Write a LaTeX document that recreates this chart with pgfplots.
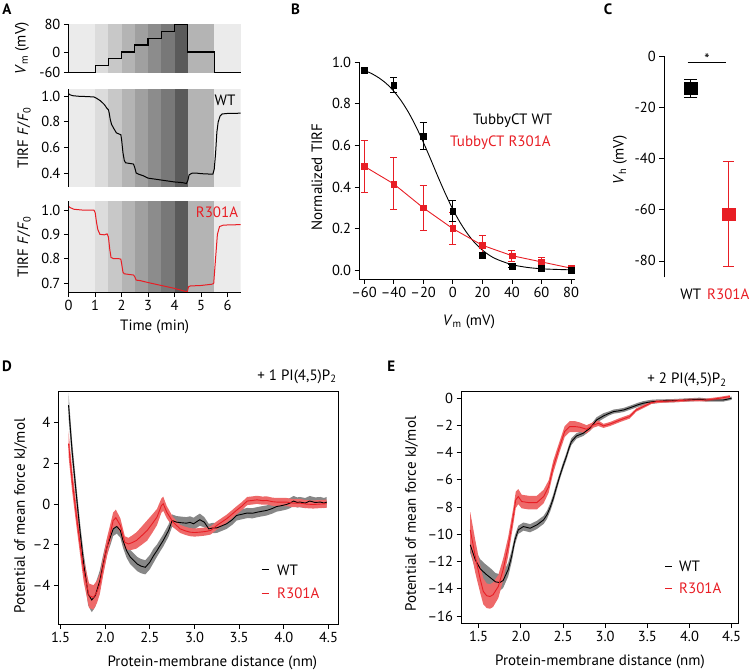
\documentclass[border=0pt]{standalone}
\usepackage{fontspec}
\setmainfont{PT Sans}
\usepackage{pgfplots}
\usepackage{pgfplotstable}
\pgfplotsset{compat=1.18}

\definecolor{tred}{RGB}{232,30,37}
\definecolor{rband}{RGB}{238,105,105}
\definecolor{gband}{RGB}{135,135,135}
\definecolor{b0}{RGB}{235,235,235}
\definecolor{b1}{RGB}{220,220,220}
\definecolor{b2}{RGB}{200,200,200}
\definecolor{b3}{RGB}{180,180,180}
\definecolor{b4}{RGB}{160,160,160}
\definecolor{b5}{RGB}{140,140,140}
\definecolor{b6}{RGB}{120,120,120}
\definecolor{b7}{RGB}{90,90,90}

\pgfplotsset{
  every axis/.append style={
    scale only axis,
    anchor=south west,
    font=\fontsize{14.5}{17}\selectfont,
    /pgf/number format/assume math mode=true,
    axis line style={line width=0.8pt},
    tick style={line width=0.8pt, black},
    tick align=outside,
    major tick length=4.8pt,
  },
  Dax/.style={at={(58.7pt,48pt)}, width=279.6pt, height=232.3pt,
    xmin=1.48, xmax=4.61, ymin=-5.9, ymax=5.53},
  Eax/.style={at={(461.3pt,48.7pt)}, width=277pt, height=232.3pt,
    xmin=1.294, xmax=4.579, ymin=-16.54, ymax=0.51},
}

% background bands of the voltage protocol
\newcommand{\band}[5]{\addplot[draw=none,fill=#1,forget plot] coordinates {(#2,#4) (#3,#4) (#3,#5) (#2,#5)};}
\newcommand{\bandsA}[2]{%
  \band{b0}{0}{1}{#1}{#2}
  \band{b1}{1}{1.5}{#1}{#2}
  \band{b2}{1.5}{2}{#1}{#2}
  \band{b3}{2}{2.5}{#1}{#2}
  \band{b4}{2.5}{3}{#1}{#2}
  \band{b5}{3}{3.5}{#1}{#2}
  \band{b6}{3.5}{4}{#1}{#2}
  \band{b7}{4}{4.5}{#1}{#2}
  \band{b3}{4.5}{5.5}{#1}{#2}
  \band{b0}{5.5}{6.5}{#1}{#2}
}
% shaded band y +- e, drawn as two stacked plots
\newcommand{\errband}[2]{%
  \addplot[draw=none, stack plots=y, forget plot] table[x=x, y expr=\thisrow{y}-\thisrow{e}] {#1};
  \addplot[draw=none, fill=#2, stack plots=y, forget plot] table[x=x, y expr=2*\thisrow{e}] {#1} \closedcycle;
}

\pgfplotstableread{
x y e
1.59 4.87 0.6
1.63 2.6 0.5
1.68 0.35 0.45
1.72 -1.4 0.45
1.76 -2.95 0.5
1.81 -4.43 0.55
1.85 -4.72 0.6
1.89 -4.5 0.55
1.94 -3.77 0.5
1.98 -2.9 0.45
2.02 -2.12 0.4
2.06 -1.6 0.4
2.09 -1.22 0.35
2.13 -1.10 0.35
2.17 -1.30 0.35
2.20 -1.8 0.35
2.24 -2.29 0.35
2.28 -2.6 0.35
2.32 -2.78 0.35
2.36 -2.95 0.35
2.40 -3.05 0.35
2.45 -3.11 0.35
2.50 -2.86 0.35
2.54 -2.55 0.35
2.58 -2.29 0.3
2.62 -2.0 0.3
2.65 -1.79 0.3
2.71 -1.30 0.3
2.75 -0.81 0.3
2.80 -0.89 0.3
2.86 -0.92 0.3
2.91 -0.94 0.3
2.95 -0.90 0.3
2.99 -0.97 0.3
3.03 -0.85 0.3
3.06 -0.77 0.3
3.11 -0.89 0.25
3.16 -1.22 0.25
3.20 -1.18 0.25
3.25 -1.17 0.25
3.30 -1.08 0.25
3.36 -0.97 0.25
3.42 -0.78 0.25
3.47 -0.56 0.25
3.53 -0.50 0.25
3.59 -0.44 0.25
3.65 -0.45 0.25
3.70 -0.40 0.25
3.76 -0.35 0.25
3.81 -0.31 0.25
3.87 -0.22 0.25
3.92 -0.12 0.25
3.97 -0.08 0.25
4.03 -0.02 0.25
4.07 0.05 0.25
4.11 0.15 0.25
4.15 0.08 0.25
4.18 0.10 0.25
4.24 0.05 0.25
4.29 0.15 0.25
4.35 0.08 0.25
4.41 0.10 0.25
4.45 0.05 0.25
4.48 0.10 0.25
}\Dwt

\pgfplotstableread{
x y e
1.59 2.98 0.6
1.63 1.2 0.55
1.68 -0.64 0.5
1.72 -2.0 0.5
1.76 -3.28 0.55
1.82 -4.51 0.6
1.87 -4.59 0.6
1.91 -4.3 0.55
1.94 -3.93 0.5
1.98 -3.0 0.45
2.02 -2.12 0.45
2.06 -1.4 0.45
2.09 -0.81 0.4
2.12 -0.67 0.4
2.17 -1.05 0.35
2.22 -1.88 0.3
2.26 -1.96 0.3
2.30 -1.90 0.35
2.35 -1.79 0.4
2.41 -1.55 0.45
2.47 -1.30 0.5
2.53 -0.95 0.45
2.58 -0.64 0.4
2.63 -0.07 0.35
2.65 0.02 0.35
2.69 -0.40 0.3
2.76 -0.89 0.25
2.84 -1.22 0.2
2.90 -1.32 0.2
2.95 -1.38 0.2
3.00 -1.40 0.2
3.06 -1.38 0.2
3.12 -1.35 0.2
3.18 -1.30 0.2
3.25 -1.05 0.2
3.30 -0.90 0.2
3.36 -0.72 0.2
3.42 -0.50 0.2
3.47 -0.31 0.2
3.53 -0.10 0.2
3.59 0.15 0.2
3.65 0.18 0.2
3.70 0.21 0.2
3.76 0.17 0.2
3.81 0.18 0.2
3.87 0.12 0.2
3.92 0.10 0.2
4.03 0.10 0.2
4.10 0.05 0.2
4.18 0.05 0.2
4.25 0.0 0.2
4.33 -0.02 0.2
4.40 0.0 0.2
4.48 0.02 0.2
}\Dmut

\pgfplotstableread{
x y e
1.40 -10.78 0.6
1.46 -11.88 0.7
1.52 -12.55 0.7
1.58 -12.9 0.7
1.64 -13.2 0.7
1.70 -13.5 0.65
1.75 -13.55 0.6
1.79 -13.4 0.55
1.85 -12.6 0.5
1.89 -11.64 0.45
1.93 -10.42 0.35
1.97 -9.68 0.3
2.03 -9.44 0.3
2.11 -9.56 0.3
2.19 -9.32 0.3
2.27 -8.95 0.3
2.31 -8.58 0.3
2.35 -8.0 0.3
2.385 -7.36 0.3
2.42 -6.6 0.3
2.46 -5.77 0.25
2.50 -5.0 0.25
2.54 -4.30 0.25
2.57 -3.7 0.25
2.60 -3.20 0.25
2.66 -2.79 0.2
2.74 -2.59 0.2
2.82 -2.22 0.2
2.90 -1.61 0.2
2.98 -1.32 0.2
3.04 -1.15 0.15
3.10 -1.00 0.15
3.16 -0.95 0.15
3.22 -0.88 0.15
3.28 -0.75 0.15
3.33 -0.64 0.15
3.39 -0.50 0.15
3.45 -0.39 0.15
3.51 -0.32 0.15
3.57 -0.27 0.15
3.69 -0.22 0.12
3.81 -0.20 0.12
3.97 -0.15 0.12
4.12 -0.10 0.12
4.20 -0.15 0.12
4.28 -0.15 0.12
4.40 -0.15 0.12
4.50 -0.02 0.12
}\Ewt

\pgfplotstableread{
x y e
1.40 -9.68 1.3
1.46 -11.64 1.2
1.52 -13.35 1.0
1.555 -14.2 0.95
1.595 -14.52 0.9
1.634 -14.57 0.9
1.67 -14.45 0.9
1.733 -13.84 0.85
1.79 -12.6 0.8
1.85 -10.9 0.7
1.91 -8.7 0.6
1.94 -7.48 0.6
1.97 -7.24 0.55
2.01 -7.6 0.5
2.09 -7.68 0.5
2.19 -7.68 0.5
2.27 -7.24 0.5
2.33 -6.5 0.45
2.385 -5.04 0.45
2.46 -3.57 0.4
2.52 -2.47 0.4
2.58 -2.10 0.4
2.64 -2.1 0.4
2.70 -2.15 0.35
2.78 -2.30 0.3
2.86 -1.98 0.2
2.92 -1.86 0.2
2.98 -2.05 0.15
3.06 -1.91 0.15
3.18 -1.61 0.15
3.29 -1.37 0.15
3.37 -0.88 0.12
3.45 -0.64 0.12
3.55 -0.34 0.1
3.61 -0.27 0.1
3.81 -0.22 0.1
4.00 -0.15 0.1
4.20 -0.15 0.1
4.36 -0.02 0.1
4.48 0.10 0.1
}\Emut

\begin{document}
\begin{tikzpicture}
\useasboundingbox (0pt,0pt) rectangle (750pt,672pt);

% ---------------- panel A ----------------
\begin{axis}[at={(68.7pt,599.3pt)}, width=172pt, height=48.4pt,
  xmin=0, xmax=6.5, ymin=-60, ymax=80, axis on top,
  axis x line=none, axis y line*=left, ytick={-60,0,80}, clip=false]
  \bandsA{-60}{80}
  \addplot[const plot, black, line width=1.2pt] coordinates {
    (0,-60) (1,-40) (1.5,-20) (2,0) (2.5,20) (3,40) (3.5,60) (4,80) (4.5,0) (5.5,-60) (6.5,-60)};
\end{axis}

\begin{axis}[at={(68.7pt,485.3pt)}, width=172pt, height=97.4pt,
  xmin=0, xmax=6.5, ymin=0.293, ymax=1.055, axis on top,
  axis x line=none, axis y line*=left, ytick={0.4,0.6,0.8,1.0},
  yticklabel style={/pgf/number format/.cd, fixed, fixed zerofill, precision=1}]
  \bandsA{0.293}{1.055}
  \addplot[black, line width=1pt] coordinates {
    (0,1.02) (0.05,1.012) (0.15,1.005) (0.4,1.0) (0.7,0.998) (0.95,0.995) (1.05,0.985)
    (1.2,0.965) (1.35,0.935) (1.45,0.905) (1.5,0.895) (1.53,0.87) (1.57,0.82) (1.62,0.78)
    (1.7,0.75) (1.8,0.715) (1.9,0.705) (1.97,0.70) (2.0,0.66) (2.05,0.56) (2.1,0.50)
    (2.15,0.48) (2.3,0.475) (2.45,0.47) (2.5,0.44) (2.55,0.40) (2.65,0.39) (2.8,0.38)
    (3.0,0.36) (3.5,0.345) (4.0,0.33) (4.3,0.325) (4.45,0.318) (4.5,0.34) (4.55,0.385)
    (4.65,0.398) (4.8,0.40) (5.0,0.395) (5.3,0.392) (5.45,0.392) (5.5,0.43) (5.55,0.55)
    (5.6,0.72) (5.65,0.80) (5.72,0.845) (5.8,0.862) (6.0,0.866) (6.5,0.868)};
\end{axis}

\begin{axis}[at={(68.7pt,379.7pt)}, width=172pt, height=91.3pt,
  xmin=0, xmax=6.5, ymin=0.662, ymax=1.037, axis on top,
  axis x line*=bottom, axis y line*=left, xtick={0,1,2,3,4,5,6},
  ytick={0.7,0.8,0.9,1.0},
  yticklabel style={/pgf/number format/.cd, fixed, fixed zerofill, precision=1}]
  \bandsA{0.662}{1.037}
  \addplot[tred, line width=1pt] coordinates {
    (0,1.015) (0.05,1.01) (0.2,1.003) (0.5,1.0) (0.95,1.0) (1.0,0.99) (1.05,0.95)
    (1.1,0.92) (1.18,0.90) (1.35,0.898) (1.45,0.902) (1.5,0.89) (1.55,0.84) (1.6,0.805)
    (1.7,0.80) (1.9,0.80) (1.97,0.798) (2.0,0.78) (2.05,0.745) (2.1,0.738) (2.3,0.735)
    (2.45,0.733) (2.5,0.725) (2.55,0.712) (2.7,0.71) (3.0,0.702) (3.5,0.69) (4.0,0.678)
    (4.4,0.666) (4.48,0.664) (4.53,0.685) (4.6,0.688) (5.0,0.69) (5.4,0.695) (5.48,0.698)
    (5.55,0.80) (5.62,0.90) (5.7,0.932) (5.85,0.938) (6.5,0.94)};
\end{axis}

% ---------------- panel B ----------------
\begin{axis}[at={(359.3pt,393pt)}, width=216.2pt, height=217pt,
  xmin=-63.2, xmax=83, ymin=-0.042, ymax=1.0,
  axis lines*=left,
  xtick={-60,-40,-20,0,20,40,60,80},
  xticklabels={–60,–40,–20,0,20,40,60,80},
  ytick={0,0.2,0.4,0.6,0.8,1.0},
  yticklabel style={/pgf/number format/.cd, fixed, fixed zerofill, precision=1},
  error bars/error bar style={line width=0.9pt},
  error bars/error mark options={rotate=90, mark size=3.5pt, line width=0.9pt}]
  \addplot[black, line width=0.9pt, smooth] coordinates {
    (-60,0.960) (-55,0.945) (-50,0.924) (-45,0.897) (-40,0.861) (-35,0.815) (-30,0.759)
    (-25,0.692) (-20,0.616) (-15,0.534) (-10,0.449) (-5,0.368) (0,0.293) (5,0.229)
    (10,0.175) (15,0.131) (20,0.097) (25,0.071) (30,0.052) (40,0.027) (50,0.014)
    (60,0.007) (70,0.004) (80,0.002)};
  \addplot[tred, line width=0.9pt] coordinates {
    (-60,0.50) (-40,0.415) (-20,0.30) (0,0.20) (20,0.12) (40,0.07) (60,0.04) (80,0.01)};
  \addplot[tred, only marks, mark=square*, mark size=2.9pt,
    error bars/.cd, y dir=both, y explicit] coordinates {
    (-60,0.50) +- (0,0.125) (-40,0.415) +- (0,0.125) (-20,0.30) +- (0,0.108)
    (0,0.20) +- (0,0.077) (20,0.12) +- (0,0.045) (40,0.07) +- (0,0.027)
    (60,0.04) +- (0,0.02) (80,0.01) +- (0,0.008)};
  \addplot[black, only marks, mark=square*, mark size=2.9pt,
    error bars/.cd, y dir=both, y explicit] coordinates {
    (-60,0.96) +- (0,0.008) (-40,0.89) +- (0,0.035) (-20,0.645) +- (0,0.065)
    (0,0.285) +- (0,0.05) (20,0.07) +- (0,0.015) (40,0.02) +- (0,0.008)
    (60,0.008) +- (0,0.005) (80,0.0) +- (0,0.004)};
\end{axis}

% ---------------- panel C ----------------
\begin{axis}[at={(664pt,394.7pt)}, width=81pt, height=221.3pt,
  xmin=0.29, xmax=2.44, ymin=-86.4, ymax=0,
  axis x line=none, axis y line*=left, ytick={-80,-60,-40,-20,0}, clip=false]
  \addplot[black, only marks, mark=square*, mark size=6.3pt,
    error bars/.cd, y dir=both, y explicit,
    error bar style={line width=0.9pt},
    error mark options={rotate=90, mark size=6.5pt, line width=0.9pt}] coordinates {
    (1,-12.6) +- (0,3.6)};
  \addplot[tred, only marks, mark=square*, mark size=6.3pt,
    error bars/.cd, y dir=both, y explicit,
    error bar style={line width=0.9pt},
    error mark options={rotate=90, mark size=5.5pt, line width=0.9pt}] coordinates {
    (2,-61.7) +- (0,20.6)};
  \draw[line width=0.8pt] (axis cs:0.92,-2.5) -- (axis cs:1.94,-2.5);
\end{axis}

% ---------------- panel D ----------------
\begin{axis}[Dax,
  xtick={1.5,2,2.5,3,3.5,4,4.5}, xtick pos=left, ytick pos=left,
  xticklabel style={/pgf/number format/.cd, fixed, fixed zerofill, precision=1},
  ytick={-4,-2,0,2,4}, yticklabels={–4,–2,0,2,4}]
  \errband{\Dwt}{gband}
\end{axis}
\begin{axis}[Dax, hide axis]
  \errband{\Dmut}{rband}
\end{axis}
\begin{axis}[Dax, hide axis]
  \addplot[black, line width=0.9pt] table[x=x, y=y] {\Dwt};
  \addplot[tred, line width=0.9pt] table[x=x, y=y] {\Dmut};
\end{axis}

% ---------------- panel E ----------------
\begin{axis}[Eax,
  xtick={1.5,2,2.5,3,3.5,4,4.5}, xtick pos=left, ytick pos=left,
  xticklabel style={/pgf/number format/.cd, fixed, fixed zerofill, precision=1},
  ytick={-16,-14,-12,-10,-8,-6,-4,-2,0},
  yticklabels={–16,–14,–12,–10,–8,–6,–4,–2,0}]
  \errband{\Ewt}{gband}
\end{axis}
\begin{axis}[Eax, hide axis]
  \errband{\Emut}{rband}
\end{axis}
\begin{axis}[Eax, hide axis]
  \addplot[black, line width=0.9pt] table[x=x, y=y] {\Ewt};
  \addplot[tred, line width=0.9pt] table[x=x, y=y] {\Emut};
\end{axis}

% ---------------- texts ----------------
\begin{scope}[x=1pt, y=1pt, every node/.style={font=\fontsize{15}{18}\selectfont, inner sep=0pt}]
  \node[font=\fontsize{15}{18}\selectfont\bfseries] at (7,663) {A};
  \node[font=\fontsize{15}{18}\selectfont\bfseries] at (295.5,663) {B};
  \node[font=\fontsize{15}{18}\selectfont\bfseries] at (608,663) {C};
  \node[font=\fontsize{15}{18}\selectfont\bfseries] at (7,305.3) {D};
  \node[font=\fontsize{15}{18}\selectfont\bfseries] at (391.3,305.3) {E};

  \node[rotate=90] at (22,624) {\textit{V}\textsubscript{m} (mV)};
  \node[rotate=90] at (24,534) {TIRF \textit{F}/\textit{F}\textsubscript{0}};
  \node[rotate=90] at (24,425) {TIRF \textit{F}/\textit{F}\textsubscript{0}};
  \node at (225,571.3) {WT};
  \node[text=tred] at (217,460) {R301A};
  \node at (154.7,345.3) {Time (min)};

  \node[anchor=west] at (473,551.3) {TubbyCT WT};
  \node[anchor=west, text=tred] at (450,529.3) {TubbyCT R301A};
  \node[rotate=90] at (317,495) {Normalized TIRF};
  \node at (469,350) {\textit{V}\textsubscript{m} (mV)};

  \node[rotate=90] at (620,512) {\textit{V}\textsubscript{h} (mV)};
  \node at (690.7,377.5) {WT};
  \node[text=tred] at (728.3,377.5) {R301A};
  \node at (707,613) {*};

  \node[rotate=90] at (20.7,156) {Potential of mean force kJ/mol};
  \node at (212.4,8.7) {Protein-membrane distance (nm)};
  \node[anchor=east] at (336.7,295.3) {+ 1 PI(4,5)P\textsubscript{2}};
  \draw[black, line width=1pt] (261.7,102) -- (269.3,102);
  \node[anchor=west] at (277,102) {WT};
  \draw[tred, line width=1pt] (261.7,78.7) -- (269.3,78.7);
  \node[anchor=west, text=tred] at (277,78.7) {R301A};

  \node[rotate=90] at (411.7,158) {Potential of mean force kJ/mol};
  \node at (600,10.3) {Protein-membrane distance (nm)};
  \node[anchor=east] at (726.7,292) {+ 2 PI(4,5)P\textsubscript{2}};
  \draw[black, line width=1pt] (665,105.3) -- (671.7,105.3);
  \node[anchor=west] at (679,105.3) {WT};
  \draw[tred, line width=1pt] (665,83.7) -- (671.7,83.7);
  \node[anchor=west, text=tred] at (679,83.7) {R301A};
\end{scope}
\end{tikzpicture}
\end{document}
